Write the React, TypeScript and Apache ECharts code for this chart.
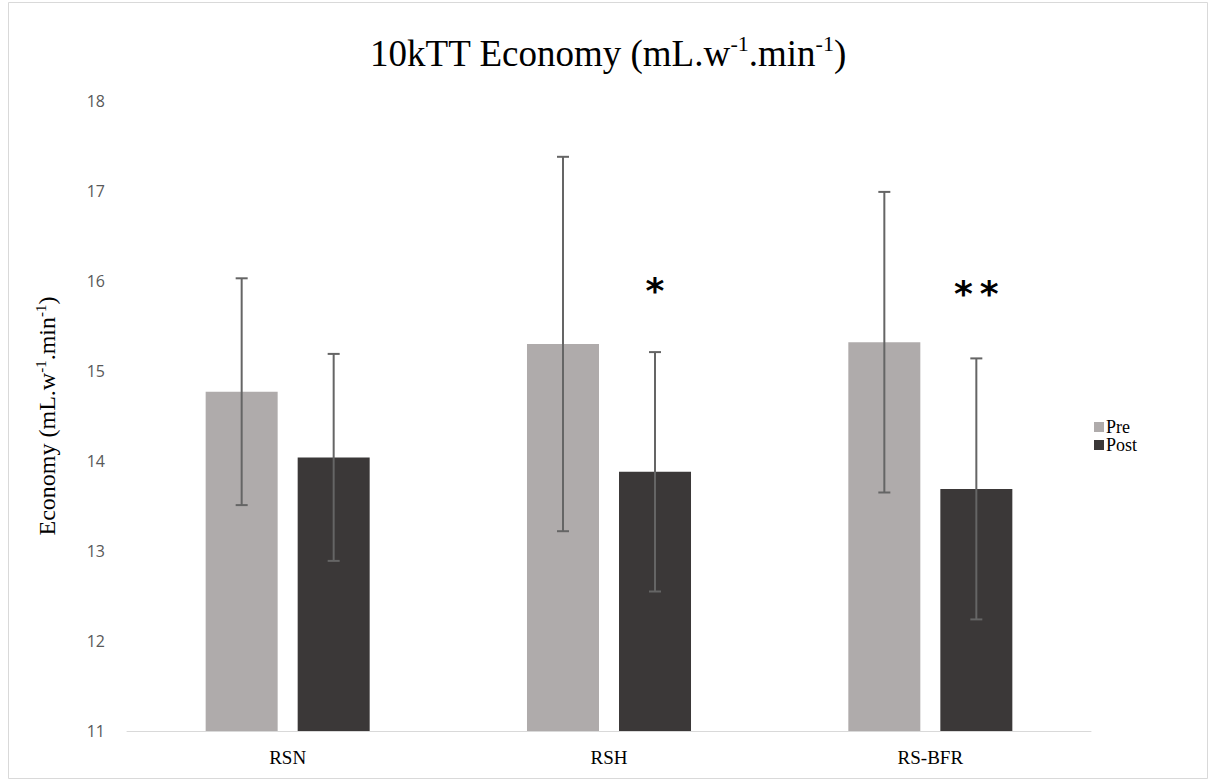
import React, { useEffect, useRef } from "react";
import * as echarts from "echarts";

const categories = ["RSN", "RSH", "RS-BFR"];
const seriesNames = ["Pre", "Post"];
const preMeans = [14.77, 15.3, 15.32];
const preSD = [1.26, 2.08, 1.67];
const postMeans = [14.04, 13.88, 13.69];
const postSD = [1.15, 1.33, 1.45];
const significance = ["", "*", "**"];
const significanceLevel = [0, 15.9, 15.86];
const yMin = 11;
const yMax = 18;
const yInterval = 1;

const PRE_COLOR = "#afabab";
const POST_COLOR = "#3b3838";
const ERR_COLOR = "#656565";
const SERIF = "'Liberation Serif', 'Times New Roman', serif";

export default function App() {
  const ref = useRef<HTMLDivElement>(null);

  useEffect(() => {
    if (!ref.current) return;
    const chart = echarts.init(ref.current, undefined, { renderer: "svg" });

    const barWidth = 72;
    const offset = 46;

    const errRender = (dx: number) => (params: any, api: any) => {
      const i = api.value(0);
      const mean = api.value(1);
      const sd = api.value(2);
      const top = api.coord([i, mean + sd]);
      const bot = api.coord([i, mean - sd]);
      const x = top[0] + dx;
      const cap = 6;
      const style = { stroke: ERR_COLOR, lineWidth: 2 };
      return {
        type: "group",
        children: [
          { type: "line", shape: { x1: x, y1: top[1], x2: x, y2: bot[1] }, style },
          { type: "line", shape: { x1: x - cap, y1: top[1], x2: x + cap, y2: top[1] }, style },
          { type: "line", shape: { x1: x - cap, y1: bot[1], x2: x + cap, y2: bot[1] }, style },
        ],
      };
    };

    const starStyle = {
      fontFamily: "'DejaVu Sans', sans-serif",
      fontWeight: "bold",
      fontSize: 36,
      color: "#000",
      padding: [0, 3.5, 0, 3.5],
    };

    const starRender = (params: any, api: any) => {
      const i = api.value(0);
      const lvl = api.value(1);
      const p = api.coord([i, lvl]);
      const txt = significance[i]
        .split("")
        .map((ch) => "{s|" + ch + "}")
        .join("");
      return {
        type: "text",
        x: p[0] + offset,
        y: p[1],
        style: {
          text: txt,
          rich: { s: starStyle },
          fontFamily: "'DejaVu Sans', sans-serif",
          fontWeight: "bold",
          fontSize: 36,
          fill: "#000",
          align: "center",
          verticalAlign: "middle",
        },
      };
    };

    chart.setOption({
      animation: false,
      backgroundColor: "#ffffff",
      title: {
        text: "10kTT Economy (mL.w{sup|-1}.min{sup|-1})",
        left: "center",
        top: 27,
        textStyle: {
          fontFamily: SERIF,
          fontSize: 37,
          fontWeight: "normal",
          color: "#000",
          lineHeight: 42,
          rich: {
            sup: { fontSize: 22, fontFamily: SERIF, color: "#000", verticalAlign: "top", lineHeight: 20 },
          },
        },
      },
      legend: {
        orient: "vertical",
        left: 1089,
        top: 413,
        itemWidth: 10,
        itemHeight: 10,
        itemGap: 0,
        icon: "rect",
        data: seriesNames,
        textStyle: { fontFamily: SERIF, fontSize: 18, color: "#000", padding: [0, 0, 0, -3] },
      },
      grid: { left: 127, right: 125, top: 101, bottom: 51 },
      xAxis: {
        type: "category",
        data: categories,
        axisLine: { show: true, lineStyle: { color: "#d9d9d9", width: 1 } },
        axisTick: { show: false },
        axisLabel: { fontFamily: SERIF, fontSize: 19, color: "#000", margin: 17 },
      },
      yAxis: {
        type: "value",
        min: yMin,
        max: yMax,
        interval: yInterval,
        splitLine: { show: false },
        axisLine: { show: false },
        axisTick: { show: false },
        axisLabel: { fontFamily: "'Open Sans', 'Noto Sans', sans-serif", fontSize: 16, color: "#595959", margin: 22 },
        name: "Economy (mL.w{sup|-1}.min{sup|-1})",
        nameLocation: "middle",
        nameRotate: 90,
        nameGap: 66,
        nameTextStyle: {
          fontFamily: SERIF,
          fontSize: 24,
          color: "#000",
          lineHeight: 28,
          rich: {
            sup: { fontSize: 15, fontFamily: SERIF, color: "#000", verticalAlign: "top", lineHeight: 15 },
          },
        },
      },
      series: [
        {
          name: "Pre",
          type: "bar",
          data: preMeans,
          barWidth,
          barGap: "27.8%",
          itemStyle: { color: PRE_COLOR },
        },
        {
          name: "Post",
          type: "bar",
          data: postMeans,
          barWidth,
          barGap: "27.8%",
          itemStyle: { color: POST_COLOR },
        },
        {
          type: "custom",
          renderItem: errRender(-offset),
          data: categories.map((c, i) => [i, preMeans[i], preSD[i]]),
          z: 10,
          silent: true,
        },
        {
          type: "custom",
          renderItem: errRender(offset),
          data: categories.map((c, i) => [i, postMeans[i], postSD[i]]),
          z: 10,
          silent: true,
        },
        {
          type: "custom",
          renderItem: starRender,
          data: categories.map((c, i) => [i, significanceLevel[i]]).filter((d, i) => significance[i] !== ""),
          z: 10,
          silent: true,
        },
      ],
      graphic: [
        {
          type: "rect",
          shape: { x: 8.5, y: 2.5, width: 1199, height: 776 },
          style: { fill: "none", stroke: "#d9d9d9", lineWidth: 1 },
          silent: true,
          z: -1,
        },
      ],
    });

    return () => chart.dispose();
  }, []);

  return (
    <div
      ref={ref}
      style={{ position: "fixed", left: 0, top: 0, width: 1216, height: 782 }}
    />
  );
}
